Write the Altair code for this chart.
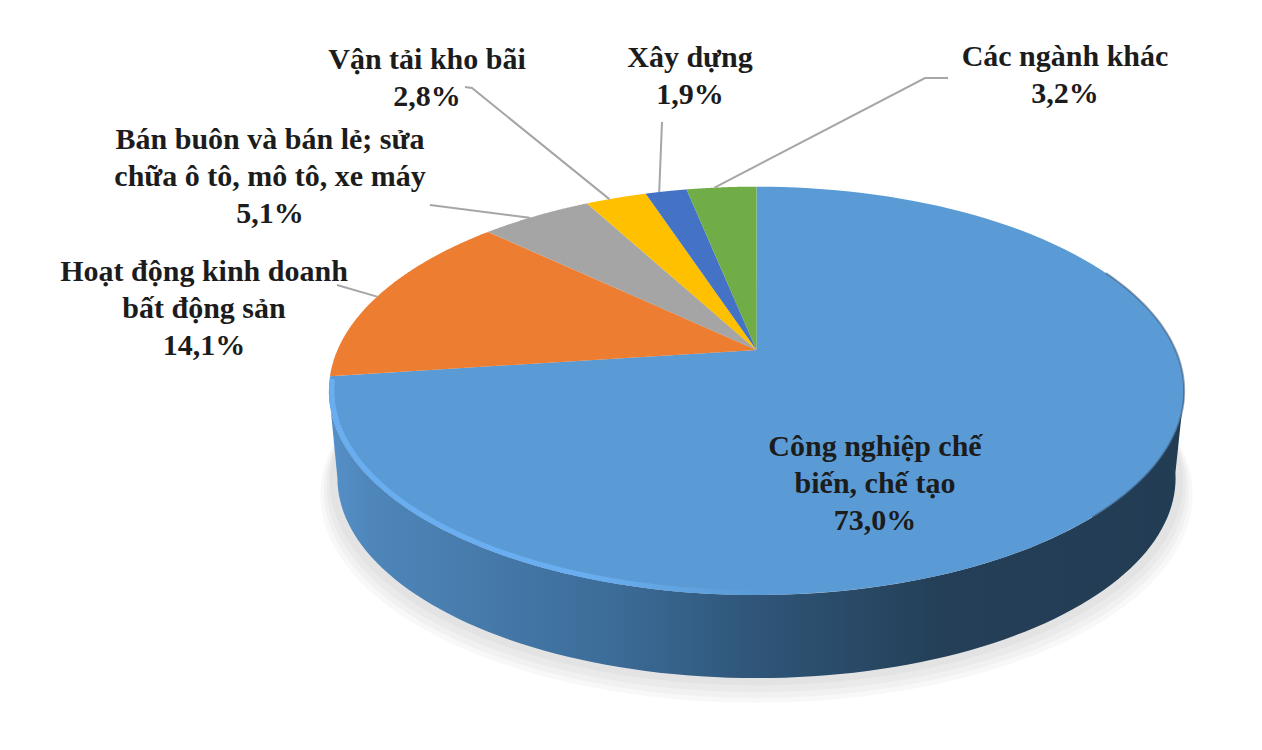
import json
import altair as alt
import pandas as pd

categories = ["Công nghiệp chế\nbiến, chế tạo", "Hoạt động  kinh doanh\nbất động  sản",
              "Bán buôn  và bán lẻ; sửa\nchữa ô tô, mô tô, xe máy", "Vận tải kho bãi", "Xây dựng", "Các ngành khác"]
values = [73.0, 14.1, 5.1, 2.8, 1.9, 3.2]
value_labels = ["73,0%", "14,1%", "5,1%", "2,8%", "1,9%", "3,2%"]
slice_colors = ["#5b9bd5", "#ed7d31", "#a5a5a5", "#ffc000", "#4472c4", "#70ad47"]

# layout (page pixels), perspective view of the disc
label_x = [875, 204, 270, 427, 690, 1065]
label_y = [447, 272, 140, 60, 58, 57]
elbow_x = [0, 337, 430, 465, 662, 948]
elbow_y = [0, 285, 205, 87, 122, 78]
knee_x = [0, 337, 430, 472, 662, 925]
knee_y = [0, 285, 205, 88, 122, 78]

CX, CY, A, B, C = 756.5, 350, 196, 0.2, 419
DROP, SHRINK = 88, 0.98


def px(ang, scale=1.0):
    return f"({CX}+{scale}*{C}*sin({ang})/(1+{B}*cos({ang})))"


def py(ang, scale=1.0, drop=0):
    return f"({CY}+{drop}+{scale}*{A}*(-cos({ang}))/(1+{B}*cos({ang})))"


df = pd.DataFrame({"idx": range(len(values)), "category": categories, "value": values,
                   "pct": value_labels})
base = (
    alt.Chart(df)
    .transform_joinaggregate(total="sum(value)")
    .transform_window(cum="sum(value)", sort=[alt.SortField("idx")])
    .transform_calculate(a0="(datum.cum-datum.value)/datum.total*2*PI",
                         a1="datum.cum/datum.total*2*PI")
)

W, H = 1246, 734
xs = alt.Scale(domain=[8, 8 + W], range=[0, W])
ys = alt.Scale(domain=[8 + H, 8], range=[H, 0])
X = lambda f="px": alt.X(f"{f}:Q", scale=xs, axis=None)
Y = lambda f="py": alt.Y(f"{f}:Q", scale=ys, axis=None)

# soft ground shadow
shadow_layers = []
for grow, dy in [(1.02, 103), (1.012, 100), (1.005, 96), (0.998, 91)]:
    shadow_layers.append(
        base.transform_filter("datum.idx==0")
        .transform_calculate(k="sequence(0,121)")
        .transform_flatten(["k"])
        .transform_calculate(ang="datum.k/120*2*PI")
        .transform_calculate(px=px("datum.ang", grow), py=py("datum.ang", grow, dy))
        .mark_line(filled=True, color="#000000", opacity=0.028, strokeWidth=0)
        .encode(x=X(), y=Y(), order="k:Q")
    )

# side wall of the disc
side_gradient = alt.Gradient(
    gradient="linear", x1=0, x2=1, y1=0, y2=0,
    stops=[alt.GradientStop(offset=0, color="#5590c8"),
           alt.GradientStop(offset=0.05, color="#4e86ba"),
           alt.GradientStop(offset=0.33, color="#3c6c98"),
           alt.GradientStop(offset=0.5, color="#2f5578"),
           alt.GradientStop(offset=0.72, color="#243f57"),
           alt.GradientStop(offset=1, color="#223c54")])
t0 = f"acos(-{B})"
span = f"(2*PI-2*{t0})"
side = (
    base.transform_filter("datum.idx==0")
    .transform_calculate(k="sequence(0,203)")
    .transform_flatten(["k"])
    .transform_calculate(ang=f"{t0}+{span}*(datum.k<=100?datum.k/100:(201-datum.k)/100)")
    .transform_calculate(
        px=f"datum.k<=100?{px('datum.ang')}:{px('datum.ang', SHRINK)}",
        py=f"datum.k<=100?{py('datum.ang')}:{py('datum.ang', SHRINK, DROP)}")
    .mark_line(filled=True, fill=side_gradient, strokeWidth=0)
    .encode(x=X(), y=Y(), order="k:Q")
)

# top-face slices
slices = (
    base.transform_calculate(k="sequence(-1,121)")
    .transform_flatten(["k"])
    .transform_calculate(ang="datum.a0+(datum.a1-datum.a0)*datum.k/120")
    .transform_calculate(px=f"datum.k<0?{CX}:{px('datum.ang')}",
                         py=f"datum.k<0?{CY}:{py('datum.ang')}")
    .mark_line(filled=True, strokeWidth=0)
    .encode(x=X(), y=Y(), order="k:Q",
            color=alt.Color("category:N", legend=None,
                            scale=alt.Scale(domain=categories, range=slice_colors)))
)

# bevel highlight along the front-left rim, dark edge at the right
rim_gradient = alt.Gradient(
    gradient="linear", x1=0, x2=1, y1=0, y2=0,
    stops=[alt.GradientStop(offset=0, color="#69aef0"),
           alt.GradientStop(offset=0.6, color="#69aef0"),
           alt.GradientStop(offset=1, color="#5b9bd5")])
rim = (
    base.transform_filter("datum.idx==0")
    .transform_calculate(k="sequence(0,101)")
    .transform_flatten(["k"])
    .transform_calculate(ang="PI*(1.45-0.45*datum.k/100)")
    .transform_calculate(px=px("datum.ang", 0.993), py=py("datum.ang", 0.99))
    .mark_line(stroke=rim_gradient, strokeWidth=5, strokeCap="round")
    .encode(x=X(), y=Y(), order="k:Q")
)
edge = (
    base.transform_filter("datum.idx==0")
    .transform_calculate(k="sequence(0,101)")
    .transform_flatten(["k"])
    .transform_calculate(ang="PI*(0.36+0.4*datum.k/100)")
    .transform_calculate(px=px("datum.ang"), py=py("datum.ang"))
    .mark_line(stroke="#2b4c6b", strokeWidth=2, opacity=0.5)
    .encode(x=X(), y=Y(), order="k:Q")
)

# leader lines: label end -> knee -> middle of the slice on the rim
leaders = (
    base.transform_filter("datum.idx>0")
    .transform_calculate(k="sequence(0,3)")
    .transform_flatten(["k"])
    .transform_calculate(ang="(datum.a0+datum.a1)/2-0.02")
    .transform_calculate(
        px=f"datum.k==0?{json.dumps(elbow_x)}[datum.idx]:datum.k==1?{json.dumps(knee_x)}[datum.idx]:{px('datum.ang')}",
        py=f"datum.k==0?{json.dumps(elbow_y)}[datum.idx]:datum.k==1?{json.dumps(knee_y)}[datum.idx]:{py('datum.ang')}")
    .mark_line(stroke="#a6a6a6", strokeWidth=2)
    .encode(x=X(), y=Y(), order="k:Q", detail="idx:N")
)

labels = (
    base.transform_calculate(
        label="datum.category+'\\n'+datum.pct",
        px=f"{json.dumps(label_x)}[datum.idx]",
        py=f"{json.dumps(label_y)}[datum.idx]")
    .mark_text(font="Liberation Serif", fontWeight="bold", fontSize=30, lineBreak="\n",
               lineHeight=37, align="center", baseline="middle", color="#1c1c1c")
    .encode(x=X(), y=Y(), text="label:N")
)

chart = (
    alt.layer(*shadow_layers, side, slices, rim, edge, leaders, labels)
    .properties(width=W, height=H, background="white", padding=0)
    .configure_view(stroke=None)
)
chart.save("out.html", embed_options={"renderer": "svg", "actions": False})
